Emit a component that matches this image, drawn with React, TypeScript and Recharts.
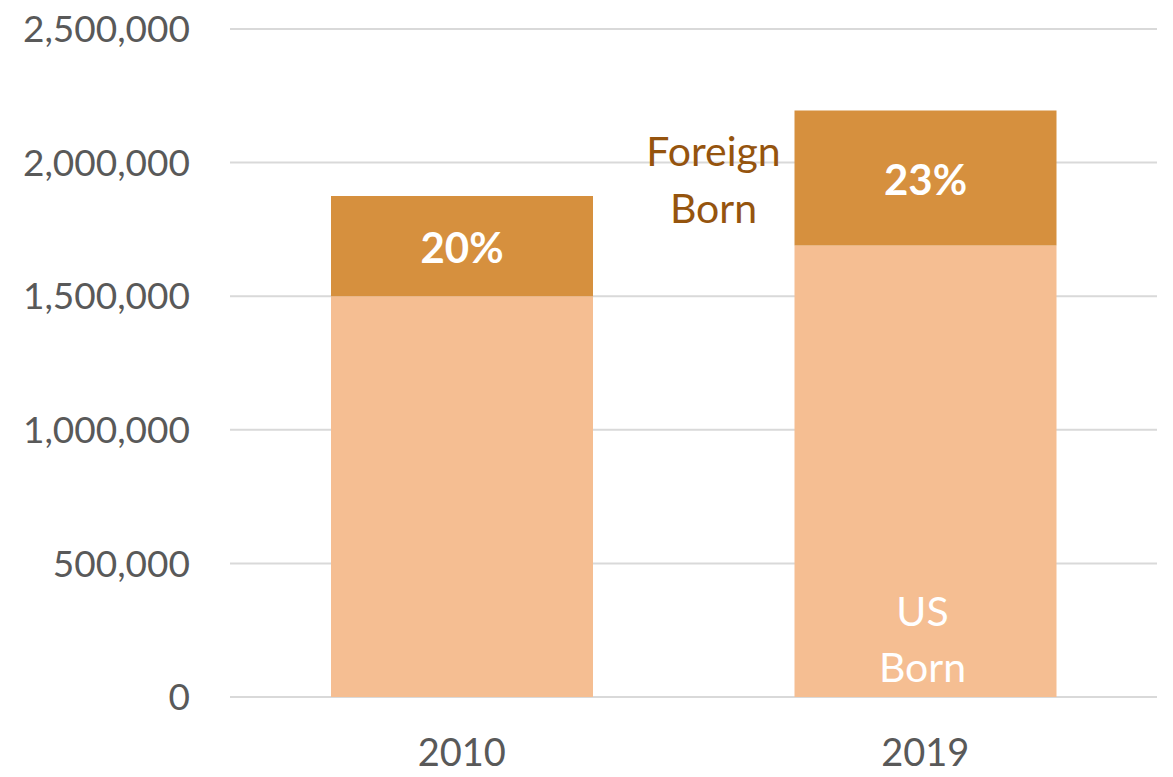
import { BarChart, Bar, XAxis, YAxis, CartesianGrid, LabelList } from 'recharts';

const years = ['2010', '2019'];
const usBorn = [1500000, 1690000];
const foreignBorn = [375000, 505000];
const foreignShare = ['20%', '23%'];
const yTicks = [0, 500000, 1000000, 1500000, 2000000, 2500000];

const FONT = 'Lato, "Open Sans", sans-serif';
const GREY = '#595959';

const data = years.map((year, i) => ({
  year,
  us: usBorn[i],
  foreign: foreignBorn[i],
  share: foreignShare[i],
}));

// percentage in the middle of the foreign-born segment, plus the side label on 2019
const ForeignLabel = (props: any) => {
  const { x, y, width, height, index } = props;
  const cx = x + width / 2;
  const cy = y + height / 2;
  return (
    <g>
      <text x={cx} y={cy + 2} dy="0.35em" textAnchor="middle" fill="#fff"
        style={{ fontFamily: FONT, fontSize: 42, fontWeight: 700 }}>
        {foreignShare[index]}
      </text>
      {index === years.length - 1 && (
        <text textAnchor="middle" fill="#95540E" style={{ fontFamily: FONT, fontSize: 41 }}>
          <tspan x={x - 81} y={cy - 26} dy="0.35em">Foreign</tspan>
          <tspan x={x - 81} y={cy + 31} dy="0.35em">Born</tspan>
        </text>
      )}
    </g>
  );
};

const UsLabel = (props: any) => {
  const { x, y, width, height, index } = props;
  if (index !== years.length - 1) return null;
  const cx = x + width / 2 - 3;
  const bottom = y + height;
  return (
    <text textAnchor="middle" fill="#fff" style={{ fontFamily: FONT, fontSize: 41 }}>
      <tspan x={cx} y={bottom - 85} dy="0.35em">US</tspan>
      <tspan x={cx} y={bottom - 29} dy="0.35em">Born</tspan>
    </text>
  );
};

export default function App() {
  return (
    <div style={{ position: 'absolute', left: 0, top: 0, width: 1173, height: 777, background: '#fff' }}>
      <BarChart
        width={1173}
        height={777}
        data={data}
        margin={{ top: 29, right: 16, bottom: 0, left: 0 }}
        barCategoryGap="0%"
      >
        <CartesianGrid vertical={false} stroke="#D9D9D9" strokeWidth={2} />
        <XAxis
          dataKey="year"
          axisLine={false}
          tickLine={false}
          height={80}
          tickSize={6}
          tickMargin={36}
          tick={{ fill: GREY, fontSize: 38, fontFamily: FONT }}
        />
        <YAxis
          type="number"
          domain={[0, 2500000]}
          ticks={yTicks}
          width={230}
          axisLine={false}
          tickLine={false}
          tickSize={6}
          tickMargin={34}
          tick={{ fill: GREY, fontSize: 37, fontFamily: FONT }}
          tickFormatter={(v: number) => v.toLocaleString('en-US')}
        />
        <Bar dataKey="us" stackId="a" fill="#F5BE92" barSize={262} isAnimationActive={false}>
          <LabelList dataKey="us" content={UsLabel} />
        </Bar>
        <Bar dataKey="foreign" stackId="a" fill="#D6903E" barSize={262} isAnimationActive={false}>
          <LabelList dataKey="share" content={ForeignLabel} />
        </Bar>
      </BarChart>
    </div>
  );
}
